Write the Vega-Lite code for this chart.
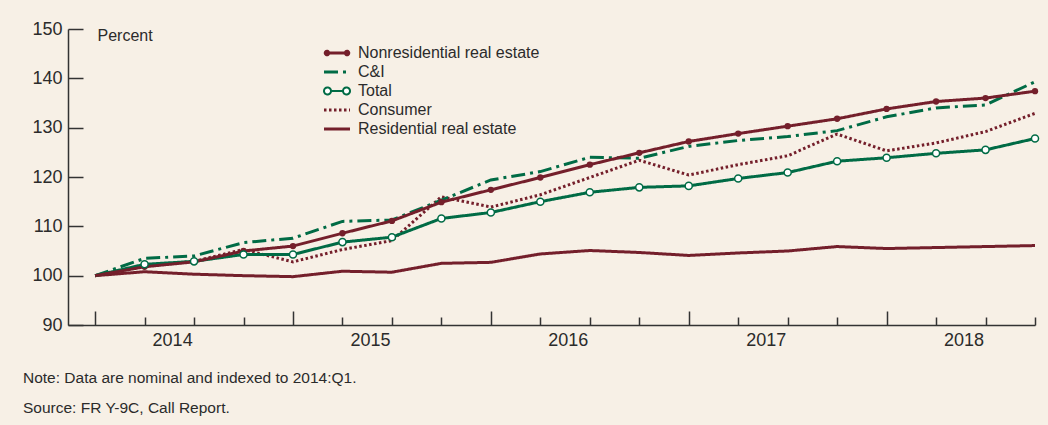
{
  "$schema": "https://vega.github.io/schema/vega-lite/v6.json",
  "width": 967,
  "height": 296,
  "autosize": {"type": "none"},
  "padding": {"left": 68, "top": 29, "right": 13, "bottom": 100},
  "background": "#f7f0e6",
  "config": {
    "view": {"stroke": null},
    "font": "Liberation Sans"
  },
  "title": {
    "text": ["Note: Data are nominal and indexed to 2014:Q1.", "Source: FR Y-9C, Call Report."],
    "orient": "bottom",
    "anchor": "start",
    "frame": "group",
    "dx": -45,
    "offset": 16,
    "fontSize": 15.5,
    "fontWeight": "normal",
    "color": "#2b2b2b",
    "lineHeight": 30,
    "baseline": "top",
    "font": "Liberation Sans"
  },
  "data": {
    "values": [
      {"t": 2014.0, "Nonresidential real estate": 100.0, "C&I": 100.0, "Total": 100.0, "Consumer": 100.0, "Residential real estate": 100.0},
      {"t": 2014.25, "Nonresidential real estate": 101.8, "C&I": 103.5, "Total": 102.3, "Consumer": 102.0, "Residential real estate": 100.8},
      {"t": 2014.5, "Nonresidential real estate": 102.8, "C&I": 104.0, "Total": 102.9, "Consumer": 102.9, "Residential real estate": 100.3},
      {"t": 2014.75, "Nonresidential real estate": 105.0, "C&I": 106.7, "Total": 104.3, "Consumer": 105.3, "Residential real estate": 100.0},
      {"t": 2015.0, "Nonresidential real estate": 106.0, "C&I": 107.6, "Total": 104.3, "Consumer": 102.8, "Residential real estate": 99.8},
      {"t": 2015.25, "Nonresidential real estate": 108.6, "C&I": 111.0, "Total": 106.8, "Consumer": 105.3, "Residential real estate": 100.9},
      {"t": 2015.5, "Nonresidential real estate": 111.1, "C&I": 111.3, "Total": 107.8, "Consumer": 107.1, "Residential real estate": 100.7},
      {"t": 2015.75, "Nonresidential real estate": 114.9, "C&I": 115.3, "Total": 111.6, "Consumer": 116.0, "Residential real estate": 102.5},
      {"t": 2016.0, "Nonresidential real estate": 117.4, "C&I": 119.4, "Total": 112.8, "Consumer": 113.9, "Residential real estate": 102.7},
      {"t": 2016.25, "Nonresidential real estate": 119.9, "C&I": 121.1, "Total": 115.0, "Consumer": 116.4, "Residential real estate": 104.4},
      {"t": 2016.5, "Nonresidential real estate": 122.5, "C&I": 124.0, "Total": 116.9, "Consumer": 119.9, "Residential real estate": 105.1},
      {"t": 2016.75, "Nonresidential real estate": 124.9, "C&I": 123.8, "Total": 117.9, "Consumer": 123.4, "Residential real estate": 104.7},
      {"t": 2017.0, "Nonresidential real estate": 127.2, "C&I": 126.2, "Total": 118.2, "Consumer": 120.4, "Residential real estate": 104.1},
      {"t": 2017.25, "Nonresidential real estate": 128.8, "C&I": 127.4, "Total": 119.7, "Consumer": 122.5, "Residential real estate": 104.6},
      {"t": 2017.5, "Nonresidential real estate": 130.3, "C&I": 128.2, "Total": 120.9, "Consumer": 124.3, "Residential real estate": 105.0},
      {"t": 2017.75, "Nonresidential real estate": 131.8, "C&I": 129.4, "Total": 123.2, "Consumer": 128.7, "Residential real estate": 105.9},
      {"t": 2018.0, "Nonresidential real estate": 133.8, "C&I": 132.2, "Total": 123.9, "Consumer": 125.3, "Residential real estate": 105.5},
      {"t": 2018.25, "Nonresidential real estate": 135.3, "C&I": 134.0, "Total": 124.8, "Consumer": 126.9, "Residential real estate": 105.7},
      {"t": 2018.5, "Nonresidential real estate": 136.0, "C&I": 134.6, "Total": 125.5, "Consumer": 129.2, "Residential real estate": 105.9},
      {"t": 2018.75, "Nonresidential real estate": 137.4, "C&I": 139.3, "Total": 127.8, "Consumer": 132.9, "Residential real estate": 106.1}
    ]
  },
  "transform": [
    {"fold": ["Residential real estate", "Consumer", "C&I", "Total", "Nonresidential real estate"], "as": ["series", "value"]}
  ],
  "encoding": {
    "x": {
      "field": "t",
      "type": "quantitative",
      "scale": {"domain": [2013.863, 2018.75], "nice": false, "zero": false},
      "axis": {
        "title": null,
        "grid": false,
        "values": [2014, 2014.25, 2014.5, 2014.75, 2015, 2015.25, 2015.5, 2015.75, 2016, 2016.25, 2016.5, 2016.75, 2017, 2017.25, 2017.5, 2017.75, 2018, 2018.25, 2018.5, 2018.75],
        "tickSize": {"condition": {"test": "datum.value % 1 === 0", "value": -14}, "value": -8},
        "tickColor": "#333333",
        "tickWidth": 1.5,
        "domainColor": "#333333",
        "domainWidth": 1.5,
        "labelExpr": "datum.value % 1 === 0 ? format(datum.value, 'd') : ''",
        "labelOffset": 77,
        "labelFontSize": 18,
        "labelColor": "#2b2b2b",
        "labelPadding": 20,
        "labelOverlap": false,
        "labelBound": false,
        "labelFlush": false
      }
    },
    "y": {
      "field": "value",
      "type": "quantitative",
      "scale": {"domain": [90, 150], "nice": false, "zero": false},
      "axis": {
        "values": [90, 100, 110, 120, 130, 140, 150],
        "grid": false,
        "title": "Percent",
        "titleAngle": 0,
        "titleX": 29,
        "titleY": 11,
        "titleAlign": "left",
        "titleBaseline": "alphabetic",
        "titleFontSize": 16,
        "titleFontWeight": "normal",
        "titleColor": "#2b2b2b",
        "tickSize": -15,
        "tickColor": "#333333",
        "tickWidth": 1.5,
        "domainColor": "#333333",
        "domainWidth": 1.5,
        "labelFontSize": 18,
        "labelColor": "#2b2b2b",
        "labelPadding": 21
      }
    }
  },
  "layer": [
    {
      "mark": {"type": "line", "strokeWidth": 3},
      "encoding": {
        "color": {
          "field": "series",
          "type": "nominal",
          "scale": {
            "domain": ["Nonresidential real estate", "C&I", "Total", "Consumer", "Residential real estate"],
            "range": ["#741f2b", "#006b45", "#006b45", "#741f2b", "#741f2b"]
          },
          "legend": {
            "title": null,
            "orient": "none",
            "legendX": 261,
            "legendY": 16,
            "padding": 0,
            "symbolSize": 196,
            "labelFontSize": 16,
            "labelColor": "#2b2b2b",
            "labelOffset": 13,
            "labelLimit": 400,
            "rowPadding": 3,
            "encode": {
              "symbols": {
                "update": {
                  "shape": {"signal": "datum.value === 'Nonresidential real estate' ? 'M-1.857,0L1.857,0M-1.68,0A0.25,0.25,0,1,1,-1.18,0A0.25,0.25,0,1,1,-1.68,0ZM1.18,0A0.25,0.25,0,1,1,1.68,0A0.25,0.25,0,1,1,1.18,0Z' : datum.value === 'Total' ? 'M-0.857,0L0.857,0M-1.857,0A0.5,0.5,0,1,1,-0.857,0A0.5,0.5,0,1,1,-1.857,0ZM0.857,0A0.5,0.5,0,1,1,1.857,0A0.5,0.5,0,1,1,0.857,0Z' : 'M-1.857,0L1.857,0'"},
                  "fill": {"signal": "datum.value === 'Nonresidential real estate' ? '#741f2b' : datum.value === 'Total' ? '#ffffff' : 'transparent'"},
                  "fillOpacity": {"value": 1},
                  "strokeWidth": {"signal": "datum.value === 'Total' ? 2 : 3"},
                  "strokeDash": {"signal": "datum.value === 'C&I' ? [2,7,8,7,2,10] : datum.value === 'Consumer' ? [2.5,2.5] : [1,0]"}
                }
              }
            }
          }
        },
        "strokeDash": {
          "field": "series",
          "type": "nominal",
          "scale": {
            "domain": ["Nonresidential real estate", "C&I", "Total", "Consumer", "Residential real estate"],
            "range": [[1, 0], [14, 5, 3, 5], [1, 0], [2.5, 2.5], [1, 0]]
          },
          "legend": null
        }
      }
    },
    {
      "transform": [{"filter": "datum.series === 'Nonresidential real estate' && datum.t > 2014"}],
      "mark": {"type": "point", "filled": true, "size": 40, "color": "#741f2b", "opacity": 1}
    },
    {
      "transform": [{"filter": "datum.series === 'Total' && datum.t > 2014"}],
      "mark": {"type": "point", "filled": true, "fill": "#ffffff", "stroke": "#006b45", "strokeWidth": 1.5, "size": 50, "opacity": 1}
    }
  ]
}
